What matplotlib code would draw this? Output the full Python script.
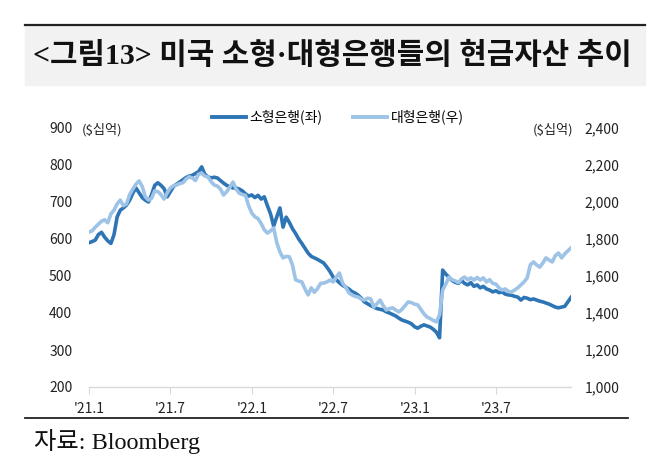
import numpy as np
import pandas as pd
import matplotlib
matplotlib.use("Agg")
import matplotlib.pyplot as plt
from matplotlib.lines import Line2D
from matplotlib.patches import Rectangle

# --- data (weekly) -----------------------------------------------------------
small_banks = [  # left axis, $bn
    590, 593, 597, 612, 618, 605, 595, 588, 612, 660, 678, 684, 692, 705, 724, 738,
    725, 712, 705, 700, 720, 745, 752, 745, 736, 714, 728, 742, 748, 754, 760, 766,
    770, 772, 777, 782, 795, 775, 768, 765, 767, 765, 758, 751, 745, 741, 738, 738,
    735, 730, 722, 716, 719, 712, 718, 708, 714, 690, 668, 635, 660, 684, 632, 659,
    645, 628, 615, 600, 588, 575, 562, 553, 549, 545, 540, 535, 524, 512, 497, 490,
    482, 475, 470, 465, 458, 454, 448, 440, 430, 425, 420, 416, 412, 410, 408, 403,
    400, 396, 392, 386, 381, 378, 375, 371, 363, 359, 364, 368, 365, 362, 356, 348,
    333, 516, 505, 497, 488, 483, 480, 488, 480, 476, 482, 472, 476, 468, 472, 465,
    462, 457, 460, 455, 457, 451, 449, 448, 445, 443, 435, 442, 440, 436, 438, 435,
    432, 430, 427, 424, 420, 416, 414, 416, 418, 430, 442]
large_banks = [  # right axis, $bn
    1838, 1844, 1864, 1880, 1896, 1904, 1888, 1936, 1956, 1990, 2010, 1980, 1990, 2040,
    2070, 2096, 2114, 2084, 2028, 2010, 2020, 2060, 2056, 2040, 2016, 2050, 2076, 2088,
    2092, 2100, 2104, 2124, 2136, 2130, 2116, 2150, 2156, 2140, 2136, 2110, 2092, 2086,
    2070, 2038, 2056, 2080, 2108, 2070, 2048, 2040, 2036, 1980, 1940, 1920, 1910, 1884,
    1850, 1832, 1844, 1860, 1780, 1730, 1698, 1706, 1704, 1660, 1580, 1572, 1568, 1530,
    1498, 1536, 1512, 1532, 1560, 1562, 1568, 1578, 1568, 1594, 1616, 1562, 1540, 1510,
    1498, 1490, 1486, 1476, 1470, 1480, 1476, 1432, 1450, 1470, 1440, 1416, 1424, 1428,
    1416, 1406, 1420, 1440, 1460, 1456, 1448, 1444, 1420, 1396, 1378, 1370, 1360, 1352,
    1390, 1524, 1556, 1594, 1580, 1574, 1564, 1584, 1594, 1580, 1590, 1578, 1592, 1578,
    1590, 1568, 1580, 1560, 1556, 1536, 1524, 1530, 1516, 1514, 1524, 1536, 1552, 1568,
    1590, 1660, 1676, 1660, 1648, 1670, 1698, 1686, 1676, 1710, 1724, 1698, 1720, 1736,
    1752]
dates = pd.date_range("2021-01-01", periods=len(small_banks), freq="7D")

tick_dates = ["2021-01-01", "2021-07-01", "2022-01-01", "2022-07-01", "2023-01-01", "2023-07-01"]
tick_labels = ["'21.1", "'21.7", "'22.1", "'22.7", "'23.1", "'23.7"]
left_ticks = [200, 300, 400, 500, 600, 700, 800, 900]
right_ticks = [1000, 1200, 1400, 1600, 1800, 2000, 2200, 2400]

title = "<그림13> 미국 소형·대형은행들의 현금자산 추이"
source = "자료: Bloomberg"

DARK = "#2E75B6"
LIGHT = "#9DC3E6"
KR = ["Noto Sans CJK KR", "DejaVu Sans"]
SERIF = ["Liberation Serif", "Noto Sans CJK KR"]

W, H = 669, 476
fig = plt.figure(figsize=(W / 100, H / 100), dpi=100)

def fx(px): return px / W
def fy(py): return 1 - py / H

# title band
fig.patches.append(Rectangle((fx(25), fy(85)), fx(620), (85 - 25) / H,
                             transform=fig.transFigure, color="#F2F2F2", zorder=0))
fig.add_artist(Line2D([fx(25), fx(645)], [fy(25), fy(25)], color="#222222", lw=1.6))
fig.text(fx(332), fy(56), title, ha="center", va="center", fontsize=21.5,
         fontweight="bold", family=SERIF, color="#111111")

# bottom rule + source
fig.add_artist(Line2D([fx(25), fx(628)], [fy(418), fy(418)], color="#222222", lw=1.3))
fig.text(fx(34), fy(441), source, ha="left", va="center", fontsize=17.5,
         family=SERIF, color="#111111")

# --- axes --------------------------------------------------------------------
ax = fig.add_axes([fx(89), fy(387), fx(571) - fx(89), fy(128) - fy(387)])
ax2 = ax.twinx()

ax.plot(dates, small_banks, color=DARK, lw=2.6, solid_joinstyle="round")
ax2.plot(dates, large_banks, color=LIGHT, lw=2.6, solid_joinstyle="round")

ax.set_xlim(dates[0], dates[-1])
ax.set_ylim(200, 900)
ax2.set_ylim(1000, 2400)
ax.set_yticks(left_ticks)
ax2.set_yticks(right_ticks)
ax2.set_yticklabels([f"{v:,}" for v in right_ticks])
ax.set_xticks(pd.to_datetime(tick_dates))
ax.set_xticklabels(tick_labels)

for a in (ax, ax2):
    for s in a.spines.values():
        s.set_visible(False)
    a.tick_params(axis="y", length=0, labelsize=10, labelcolor="#222222")
    for lab in a.get_yticklabels():
        lab.set_family(KR)
ax.spines["bottom"].set_visible(True)
ax.spines["bottom"].set_color("#D9D9D9")
ax.spines["bottom"].set_linewidth(1.0)
ax.tick_params(axis="x", length=5, color="#D9D9D9", pad=6, labelsize=10, labelcolor="#222222")
ax.tick_params(axis="y", pad=12)
ax2.tick_params(axis="y", pad=10)
for lab in ax.get_xticklabels():
    lab.set_family(KR)

# unit labels
fig.text(fx(82), fy(130), "($십억)", ha="left", va="center", fontsize=9.5, family=KR, color="#222222")
fig.text(fx(573), fy(130), "($십억)", ha="right", va="center", fontsize=9.5, family=KR, color="#222222")

# legend
handles = [Line2D([], [], color=DARK, lw=2.8), Line2D([], [], color=LIGHT, lw=2.8)]
fig.legend(handles, ["소형은행(좌)", "대형은행(우)"], loc="center",
           bbox_to_anchor=(fx(338), fy(117)), ncol=2, frameon=False,
           prop={"family": KR, "size": 10}, handlelength=2.4, handletextpad=0.3,
           columnspacing=2.2)

fig.savefig("out.png", dpi=100)
